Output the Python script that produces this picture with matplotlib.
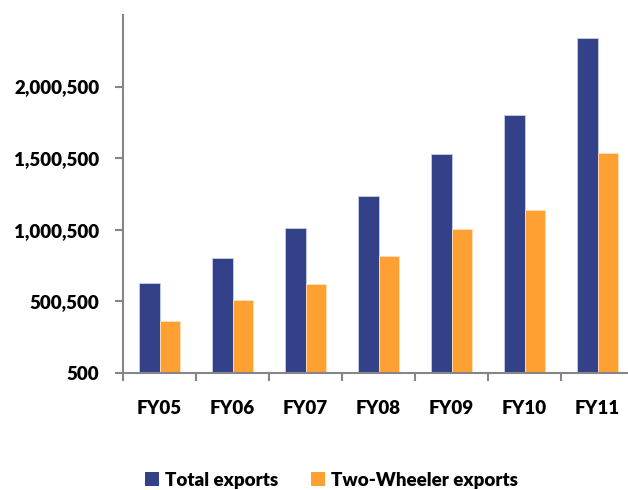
import numpy as np
import matplotlib
matplotlib.use("Agg")
import matplotlib.pyplot as plt
from matplotlib.ticker import FuncFormatter
from matplotlib.patches import Patch

plt.rcParams['font.family'] = ['Lato', 'DejaVu Sans']

years = ["FY05", "FY06", "FY07", "FY08", "FY09", "FY10", "FY11"]
total_exports = [625000, 803500, 1008900, 1236500, 1527700, 1805000, 2337700]
two_wheeler_exports = [363600, 508200, 617800, 817500, 1001900, 1136700, 1536800]
y_ticks = [500, 500500, 1000500, 1500500, 2000500]

navy = "#334189"
orange = "#FFA032"
axis_grey = "#868686"
fsize = 13.5
fweight = "heavy"

fig = plt.figure(figsize=(6.28, 4.90), dpi=100)
ax = fig.add_axes([0.1959, 0.2394, 0.8137, 0.73])

x = np.arange(len(years))
w = 0.285
base = 500
ax.bar(x - w / 2, np.array(total_exports) - base, w, bottom=base, color=navy,
       edgecolor="#c9cdea", linewidth=0.6, label="Total exports")
ax.bar(x + w / 2, np.array(two_wheeler_exports) - base, w, bottom=base, color=orange,
       edgecolor="#ffe0bb", linewidth=0.6, label="Two-Wheeler exports")

ax.set_xlim(-0.5, len(years) - 0.5)
ax.set_ylim(base, 2500500)
ax.set_yticks(y_ticks)
ax.yaxis.set_major_formatter(FuncFormatter(lambda v, p: f"{int(v):,}"))

# category ticks sit on the group boundaries, labels stay centred
ax.set_xticks(np.arange(len(years) + 1) - 0.5)
ax.set_xticklabels([])
ax.set_xticks(x, minor=True)
ax.set_xticklabels(years, minor=True)
ax.tick_params(axis="x", which="minor", length=0, pad=20)
ax.tick_params(axis="x", which="major", length=6, width=1.5, color=axis_grey)
ax.tick_params(axis="y", length=6, width=1.5, color=axis_grey, pad=11)

for lab in ax.get_xticklabels(minor=True) + ax.get_yticklabels():
    lab.set_fontweight(fweight)
    lab.set_fontsize(fsize)

for side in ["top", "right"]:
    ax.spines[side].set_visible(False)
for side in ["left", "bottom"]:
    ax.spines[side].set_color(axis_grey)
    ax.spines[side].set_linewidth(1.5)

handles = [Patch(facecolor=navy), Patch(facecolor=orange)]
fig.legend(handles, ["Total exports", "Two-Wheeler exports"], loc="center",
           bbox_to_anchor=(0.528, 0.02), ncol=2, frameon=False,
           prop={"weight": fweight, "size": fsize}, handlelength=0.75,
           handleheight=0.75, handletextpad=0.3, columnspacing=1.75)

fig.savefig("out.png", dpi=100)
